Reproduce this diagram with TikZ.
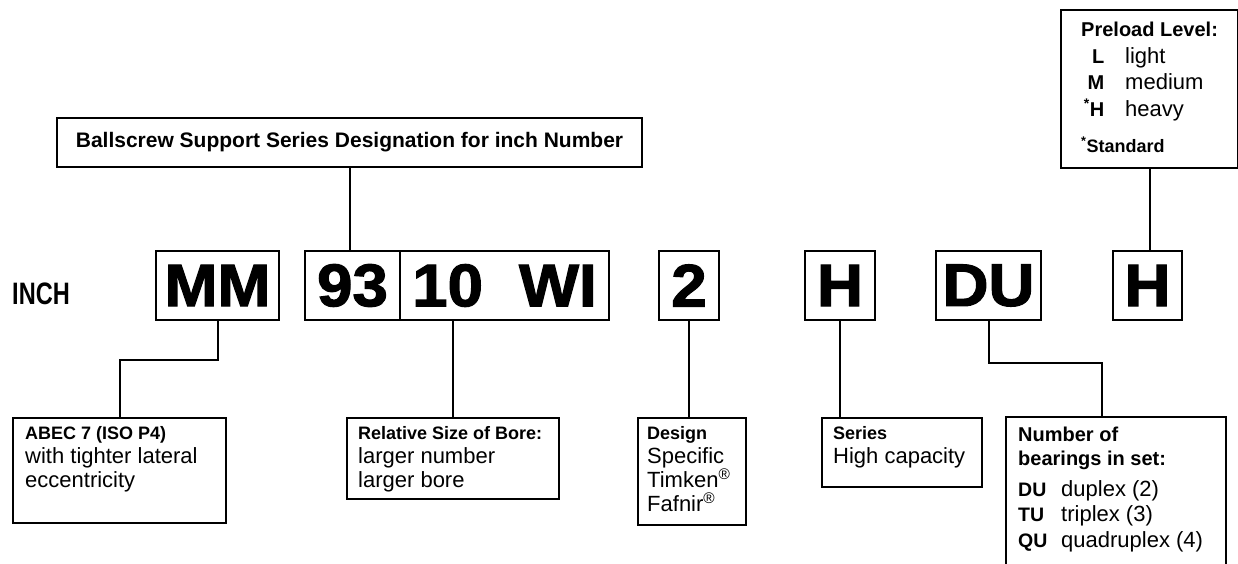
\documentclass[tikz,border=0pt]{standalone}
\usepackage{fontspec}
\setmainfont{Liberation Sans}
\newcommand{\boxtitle}[1]{{\bfseries\fontsize{18}{24}\selectfont #1}}
\newcommand{\preloadrow}[2]{\makebox[23pt][r]{\bfseries\fontsize{20}{26.5}\selectfont #1}\hspace{21pt}#2}
\newcommand{\setrow}[2]{\makebox[43pt][l]{\bfseries\fontsize{19.5}{25.5}\selectfont #1}#2}

\begin{document}
\begin{tikzpicture}[x=1pt, y=-1pt,
    codebox/.style={draw, line width=2pt, minimum height=69pt, inner sep=0pt, font=\bfseries\fontsize{60}{60}\selectfont\addfontfeatures{FakeBold=2, FakeStretch=1.06}},
    notebox/.style={draw, line width=2pt, anchor=north west, inner sep=0pt},
    notetxt/.style={anchor=base west, inner sep=0pt, align=flush left, font=\fontsize{22}{24}\selectfont},
    wire/.style={line width=2pt}]
    \useasboundingbox (0,0) rectangle (1238,564);

    % Draw top boxes
    \node[draw, line width=2pt, minimum width=585pt, minimum height=49pt, inner sep=0pt, font=\bfseries\fontsize{21}{24}\selectfont] (title) at (349.5,142.5) {Ballscrew Support Series Designation for inch Number};
    \node[notebox, minimum width=177pt, minimum height=158pt] (preload) at (1060,9) {};
    \node[notetxt, text width=150pt, font=\fontsize{22}{26.5}\selectfont] (preloadtxt) at ([xshift=21pt, yshift=-27.7pt]preload.north west) {{\bfseries\fontsize{20}{26.5}\selectfont Preload Level:}\\
        \preloadrow{L}{light}\\
        \preloadrow{M}{medium}\\
        \preloadrow{\textsuperscript{*}H}{heavy}\\[9.5pt]
        {\bfseries\fontsize{18}{26.5}\selectfont\textsuperscript{*}Standard}};

    % Draw code boxes
    \node[anchor=west, inner sep=0pt, font=\bfseries\fontsize{31}{31}\selectfont] (inch) at (12,294) {\scalebox{0.76}[1]{INCH}};
    \node[codebox, minimum width=123pt] (mm) at (217.5,285.5) {MM};
    \node[codebox, minimum width=95pt] (n93) at (352.5,285.5) {93};
    \node[codebox, minimum width=209pt] (wi) at (504.5,285.5) {10\hspace{36pt}WI};
    \node[codebox, minimum width=60pt] (n2) at (689,285.5) {2};
    \node[codebox, minimum width=70pt] (h1) at (840,285.5) {H};
    \node[codebox, minimum width=105pt] (du) at (988.5,285.5) {DU};
    \node[codebox, minimum width=69pt] (h2) at (1147.5,285.5) {H};

    % Draw bottom boxes
    \node[notebox, minimum width=213pt, minimum height=105pt] (abec) at (12,417) {};
    \node[notetxt, text width=195pt] (abectxt) at ([xshift=13pt, yshift=-22pt]abec.north west) {\boxtitle{ABEC 7 (ISO P4)}\\with tighter lateral\\eccentricity};
    \node[notebox, minimum width=212pt, minimum height=81pt] (bore) at (346,417) {};
    \node[notetxt, text width=195pt] (boretxt) at ([xshift=12pt, yshift=-22pt]bore.north west) {\boxtitle{Relative Size of Bore:}\\larger number\\larger bore};
    \node[notebox, minimum width=108pt, minimum height=107pt] (design) at (637,417) {};
    \node[notetxt, text width=95pt] (designtxt) at ([xshift=10pt, yshift=-22pt]design.north west) {\boxtitle{Design}\\Specific\\Timken\textsuperscript{\textregistered}\\Fafnir\textsuperscript{\textregistered}};
    \node[notebox, minimum width=160pt, minimum height=69pt] (series) at (821,417) {};
    \node[notetxt, text width=145pt] (seriestxt) at ([xshift=12pt, yshift=-22pt]series.north west) {\boxtitle{Series}\\High capacity};
    \node[notebox, draw=none, minimum width=218pt, minimum height=147pt] (sets) at (1006,417) {};
    \draw[wire] (sets.south west) |- (sets.north east) -- (sets.south east);
    \node[notetxt, text width=205pt, font=\fontsize{22}{25.5}\selectfont] (setstxt) at ([xshift=12pt, yshift=-24.7pt]sets.north west) {{\bfseries\fontsize{20}{25.5}\selectfont Number of\\[-2.2pt]bearings in set:}\\[5.5pt]
        \setrow{DU}{duplex (2)}\\
        \setrow{TU}{triplex (3)}\\
        \setrow{QU}{quadruplex (4)}};

    % Draw connections
    \draw[wire] (title.south) -- (title.south |- n93.north);
    \draw[wire] (preload.south) -- (preload.south |- h2.north);
    \draw[wire] (mm.south) -- ++(0,39) -| (abec.north);
    \draw[wire] (bore.north |- wi.south) -- (bore.north);
    \draw[wire] (n2.south) -- (n2.south |- design.north);
    \draw[wire] (h1.south) -- (h1.south |- series.north);
    \draw[wire] (du.south) -- ++(0,42) -| ([xshift=96pt]sets.north west);
\end{tikzpicture}
\end{document}
